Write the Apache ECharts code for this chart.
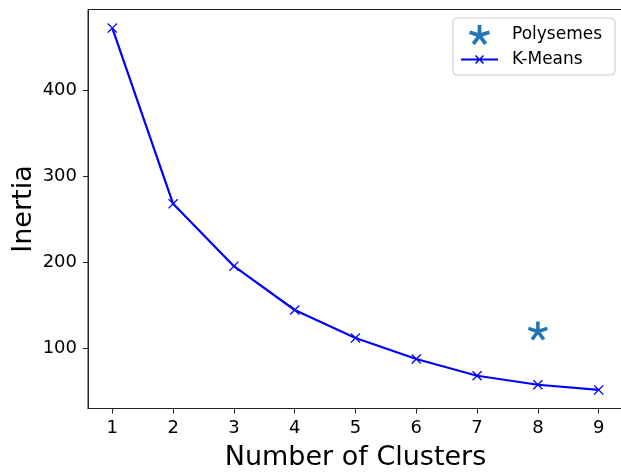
<!DOCTYPE html>
<html>
<head>
<meta charset="utf-8">
<script src="https://cdn.jsdelivr.net/npm/echarts@6/dist/echarts.min.js"></script>
<style>
  html, body { margin: 0; padding: 0; background: #fff; }
  #chart { width: 621px; height: 473px; }
</style>
</head>
<body>
<div id="chart"></div>
<script>
// ===== 数据 =====
const clusters = [1, 2, 3, 4, 5, 6, 7, 8, 9];
const kmeansInertia = [472.5, 268, 195.5, 144.5, 112, 87.5, 68, 57.5, 51.5];
const polysemeClusters = [8];
const polysemeInertia = [120];
const xTicks = [1, 2, 3, 4, 5, 6, 7, 8, 9];
const yTicks = [100, 200, 300, 400];

/**
 * 生成星号/叉号形状的多边形（n 条臂），返回路径片段
 */
function asteriskPoly(n, offsetDeg, w, scale, cx, cy) {
  const pts = [];
  const innerR = w / Math.sin(Math.PI / n);
  for (let k = 0; k < n; k++) {
    const a = (offsetDeg + k * 360 / n) * Math.PI / 180;
    const dx = Math.sin(a), dy = -Math.cos(a);
    const px = Math.cos(a), py = Math.sin(a);
    pts.push([dx - w * px, dy - w * py]);
    pts.push([dx + w * px, dy + w * py]);
    const b = a + Math.PI / n;
    pts.push([innerR * Math.sin(b), -innerR * Math.cos(b)]);
  }
  return pts.map(function (p, i) {
    return (i === 0 ? 'M' : 'L') + (cx + p[0] * scale).toFixed(2) + ',' + (cy + p[1] * scale).toFixed(2);
  }).join('') + 'Z';
}

const starSymbol = 'path://' + asteriskPoly(5, 0, 0.18, 100, 0, 0);
const crossSymbol = 'path://' + asteriskPoly(4, 45, 0.1, 100, 0, 0);
// 图例：线段 + 小叉号
const kmeansLegendIcon = 'path://M0,3L37,3L37,5L0,5Z' + asteriskPoly(4, 45, 0.13, 5.66, 18.5, 4);

const font = 'DejaVu Sans';
const chart = echarts.init(document.getElementById('chart'), null, { renderer: 'canvas' });

chart.setOption({
  animation: false,
  backgroundColor: '#fff',
  grid: {
    left: 88, top: 9.5, width: 535, height: 399,
    outerBoundsMode: 'none',
    show: true, borderColor: '#222', borderWidth: 1, backgroundColor: 'transparent'
  },
  legend: {
    orient: 'vertical',
    left: 453, top: 18,
    padding: [7, 13, 7, 8],
    itemWidth: 37, itemHeight: 20, itemGap: 6,
    backgroundColor: 'rgba(255,255,255,0.8)',
    borderColor: '#cccccc', borderWidth: 1, borderRadius: 4,
    textStyle: { fontFamily: font, fontSize: 17, color: '#000', padding: [0, 0, 0, 9] },
    data: [
      { name: 'Polysemes' },
      { name: 'K-Means', icon: kmeansLegendIcon }
    ]
  },
  xAxis: {
    type: 'value',
    min: 0.6, max: 9.4,
    name: 'Number of Clusters',
    nameLocation: 'middle',
    nameGap: 36,
    nameMoveOverlap: false,
    nameTextStyle: { fontFamily: font, fontSize: 27, color: '#000' },
    axisLine: { show: true, lineStyle: { color: '#222', width: 1 } },
    axisTick: { show: true, length: 5, lineStyle: { color: '#222' }, customValues: xTicks },
    axisLabel: { fontFamily: font, fontSize: 18, color: '#000', margin: 11, customValues: xTicks },
    splitLine: { show: false }
  },
  yAxis: {
    type: 'value',
    min: 29.9, max: 494.1,
    name: 'Inertia',
    nameLocation: 'middle',
    nameGap: 51,
    nameMoveOverlap: false,
    nameTextStyle: { fontFamily: font, fontSize: 27, color: '#000' },
    axisLine: { show: true, lineStyle: { color: '#222', width: 1 } },
    axisTick: { show: true, length: 5, lineStyle: { color: '#222' }, customValues: yTicks },
    axisLabel: { fontFamily: font, fontSize: 18, color: '#000', margin: 11, customValues: yTicks },
    splitLine: { show: false }
  },
  series: [
    {
      name: 'Polysemes',
      type: 'scatter',
      symbol: starSymbol,
      symbolSize: [20, 19],
      itemStyle: { color: '#1f77b4', opacity: 1 },
      data: polysemeClusters.map(function (x, i) { return [x, polysemeInertia[i]]; })
    },
    {
      name: 'K-Means',
      type: 'line',
      symbol: crossSymbol,
      symbolSize: 10,
      showSymbol: true,
      lineStyle: { color: '#0000ff', width: 2.2 },
      itemStyle: { color: '#0000ff' },
      data: clusters.map(function (x, i) { return [x, kmeansInertia[i]]; })
    }
  ]
});
</script>
</body>
</html>
